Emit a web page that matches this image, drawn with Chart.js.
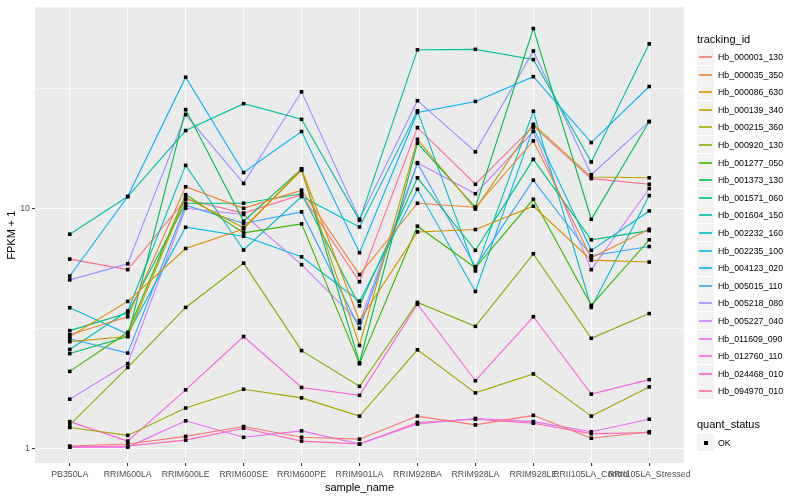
<!DOCTYPE html>
<html>
<head>
<meta charset="utf-8">
<script src="https://cdn.jsdelivr.net/npm/chart.js@4.4.1/dist/chart.umd.min.js"></script>
<style>
  body { margin: 0; background: #fff; font-family: "Liberation Sans", Arial, sans-serif; }
  #wrap { position: relative; width: 800px; height: 500px; }
  #legend { position: absolute; left: 697px; top: 0; width: 103px; height: 500px; color: #000; }
  .ttl { position: absolute; left: 0; font-size: 11px; line-height: 13px; }
  .row { position: absolute; left: 0; height: 17px; display: flex; align-items: center; font-size: 8.8px; }
  .key { width: 17px; height: 17px; background: #F2F2F2; position: relative; margin-right: 4px; }
  .key i { position: absolute; left: 2px; top: 7.5px; width: 13px; height: 2px; opacity: 0.8; }
  .key b { position: absolute; left: 7px; top: 7px; width: 4px; height: 4px; background: #000; }
</style>
</head>
<body>
<div id="wrap">
  <canvas id="c" width="800" height="500"></canvas>
  <div id="legend"></div>
</div>
<script>
// --- data ---
const samples = ['PB350LA', 'RRIM600LA', 'RRIM600LE', 'RRIM600SE', 'RRIM600PE', 'RRIM901LA',
  'RRIM928BA', 'RRIM928LA', 'RRIM928LE', 'RRII105LA_Control', 'RRII105LA_Stressed'];

const trackingIds = ['Hb_000001_130', 'Hb_000035_350', 'Hb_000086_630', 'Hb_000139_340', 'Hb_000215_360',
  'Hb_000920_130', 'Hb_001277_050', 'Hb_001373_130', 'Hb_001571_060', 'Hb_001604_150',
  'Hb_002232_160', 'Hb_002235_100', 'Hb_004123_020', 'Hb_005015_110', 'Hb_005218_080',
  'Hb_005227_040', 'Hb_011609_090', 'Hb_012760_110', 'Hb_024468_010', 'Hb_094970_010'];

// FPKM + 1 per tracking id, one value per sample
const hb000001 = [1.02, 1.04, 1.12, 1.23, 1.11, 1.09, 1.36, 1.25, 1.37, 1.10, 1.17];
const hb000035 = [2.97, 3.53, 12.3, 10.0, 11.9, 5.29, 10.5, 10.1, 19.1, 6.22, 8.18];
const hb000086 = [2.92, 4.09, 6.80, 8.20, 14.6, 3.40, 7.97, 8.16, 10.2, 6.08, 5.97];
const hb000139 = [2.78, 2.92, 11.1, 8.30, 14.4, 2.68, 19.4, 9.93, 22.4, 13.5, 13.4];
const hb000215 = [1.22, 1.13, 1.47, 1.76, 1.62, 1.36, 2.57, 1.70, 2.04, 1.36, 1.80];
const hb000920 = [1.25, 2.17, 3.86, 5.91, 2.55, 1.81, 4.05, 3.22, 6.46, 2.87, 3.64];
const hb001277 = [2.09, 3.04, 11.4, 7.90, 8.61, 2.25, 8.42, 5.65, 10.9, 3.94, 7.39];
const hb001373 = [2.48, 2.92, 25.8, 8.83, 14.6, 2.27, 18.7, 10.1, 56.2, 9.00, 23.0];
const hb001571 = [3.09, 3.66, 10.5, 10.5, 11.5, 3.92, 13.4, 6.68, 16.0, 7.39, 8.07];
const hb001604 = [7.80, 11.2, 21.1, 27.3, 23.5, 8.91, 45.8, 46.0, 41.7, 15.6, 48.5];
const hb002232 = [2.58, 3.73, 15.1, 6.70, 11.2, 8.36, 25.5, 5.48, 25.4, 3.86, 11.3];
const hb002235 = [3.85, 2.99, 8.34, 7.65, 6.28, 4.10, 12.0, 4.50, 21.7, 6.68, 9.75];
const hb004123 = [5.22, 11.2, 35.2, 14.1, 20.9, 6.53, 25.1, 27.9, 35.4, 18.8, 32.2];
const hb005015 = [2.86, 2.49, 10.3, 8.64, 9.66, 3.16, 15.4, 5.71, 13.1, 6.34, 6.93];
const hb005218 = [5.03, 5.87, 24.6, 12.7, 30.6, 9.00, 28.1, 17.2, 45.3, 13.8, 23.0];
const hb005227 = [1.60, 2.25, 10.0, 9.42, 5.82, 3.33, 15.5, 11.5, 20.9, 5.55, 12.1];
const hb011609 = [1.01, 1.01, 1.30, 1.11, 1.18, 1.04, 1.26, 1.33, 1.29, 1.17, 1.32];
const hb012760 = [1.29, 1.07, 1.75, 2.92, 1.79, 1.66, 3.98, 1.91, 3.53, 1.68, 1.93];
const hb024468 = [1.01, 1.02, 1.08, 1.21, 1.07, 1.04, 1.28, 1.32, 1.27, 1.15, 1.16];
const hb094970 = [6.14, 5.55, 10.9, 9.55, 11.4, 4.94, 21.7, 12.6, 22.0, 13.3, 12.6];

const yMajor = [1, 10];
const yMinor = [3.1623, 31.623];

// --- styles ---
const seriesValues = [hb000001, hb000035, hb000086, hb000139, hb000215, hb000920, hb001277, hb001373,
  hb001571, hb001604, hb002232, hb002235, hb004123, hb005015, hb005218, hb005227, hb011609,
  hb012760, hb024468, hb094970];
const colors = ['#F8766D', '#EA8331', '#D89000', '#C09B00', '#A3A500', '#7CAE00', '#39B600', '#00BB4E',
  '#00BF7D', '#00C1A3', '#00BFC4', '#00BAE0', '#00B0F6', '#35A2FF', '#9590FF', '#C77CFF', '#E76BF3',
  '#FA62DB', '#FF62BC', '#FF6C91'];

Chart.defaults.font.family = '"Liberation Sans", Arial, sans-serif';

const panelBg = {
  id: 'panelBg',
  beforeDraw(chart) {
    const { ctx, chartArea: a } = chart;
    ctx.save();
    ctx.fillStyle = '#EBEBEB';
    ctx.fillRect(a.left, a.top, a.right - a.left, a.bottom - a.top);
    ctx.restore();
  }
};

// points go on top of every line, like geom_point after geom_line
const points = {
  id: 'points',
  afterDatasetsDraw(chart) {
    const ctx = chart.ctx;
    ctx.save();
    ctx.fillStyle = '#000';
    chart.data.datasets.forEach((ds, i) => {
      chart.getDatasetMeta(i).data.forEach(el => {
        ctx.fillRect(el.x - 1.8, el.y - 1.8, 3.6, 3.6);
      });
    });
    ctx.restore();
  }
};

const isMajor = v => yMajor.includes(v);

new Chart(document.getElementById('c'), {
  type: 'line',
  data: {
    datasets: seriesValues.map((vals, i) => ({
      label: trackingIds[i],
      data: vals.map((v, j) => ({ x: j, y: v })),
      borderColor: colors[i],
      borderWidth: 1.1,
      pointRadius: 0,
      fill: false,
      tension: 0
    }))
  },
  options: {
    responsive: false,
    animation: false,
    devicePixelRatio: 1,
    layout: { padding: { top: 5, right: 116, left: 0, bottom: 0 } },
    plugins: { legend: { display: false }, tooltip: { enabled: false } },
    scales: {
      x: {
        type: 'linear',
        min: -0.6,
        max: 10.6,
        afterBuildTicks: s => { s.ticks = samples.map((_, i) => ({ value: i })); },
        afterFit: s => { s.height = 37; },
        grid: { color: '#FFFFFF', lineWidth: 1.1, tickColor: '#333333', tickLength: 3 },
        border: { display: false },
        ticks: {
          autoSkip: false, maxRotation: 0, minRotation: 0, padding: 3,
          color: '#4D4D4D', font: { size: 8.8 },
          callback: v => samples[v]
        },
        title: { display: true, text: 'sample_name', color: '#000', font: { size: 11 },
          padding: { top: 0, bottom: 5 } }
      },
      y: {
        type: 'logarithmic',
        min: 0.867,
        max: 68.9,
        afterBuildTicks: s => { s.ticks = yMajor.concat(yMinor).sort((a, b) => a - b).map(v => ({ value: v })); },
        afterFit: s => { s.width = 35; },
        grid: {
          color: '#FFFFFF',
          lineWidth: c => (isMajor(c.tick.value) ? 1.1 : 0.55),
          tickColor: c => (isMajor(c.tick.value) ? '#333333' : 'rgba(0,0,0,0)'),
          tickLength: 3
        },
        border: { display: false },
        ticks: {
          autoSkip: false, padding: 2, color: '#4D4D4D', font: { size: 8.8 },
          callback: v => (isMajor(v) ? String(v) : '')
        },
        title: { display: true, text: 'FPKM + 1', color: '#000', font: { size: 11 },
          padding: { top: 5, bottom: 2 } }
      }
    }
  },
  plugins: [panelBg, points]
});

// ggplot style legend, each row snapped to whole pixels
const legend = document.getElementById('legend');
let html = '<div class="ttl" style="top:33px">tracking_id</div>';
trackingIds.forEach((id, i) => {
  const top = Math.round(48 + i * 17.6);
  html += '<div class="row" style="top:' + top + 'px"><div class="key"><i style="background:' +
    colors[i] + '"></i></div>' + id + '</div>';
});
html += '<div class="ttl" style="top:418px">quant_status</div>';
html += '<div class="row" style="top:434px"><div class="key"><b></b></div>OK</div>';
legend.innerHTML = html;
</script>
</body>
</html>
